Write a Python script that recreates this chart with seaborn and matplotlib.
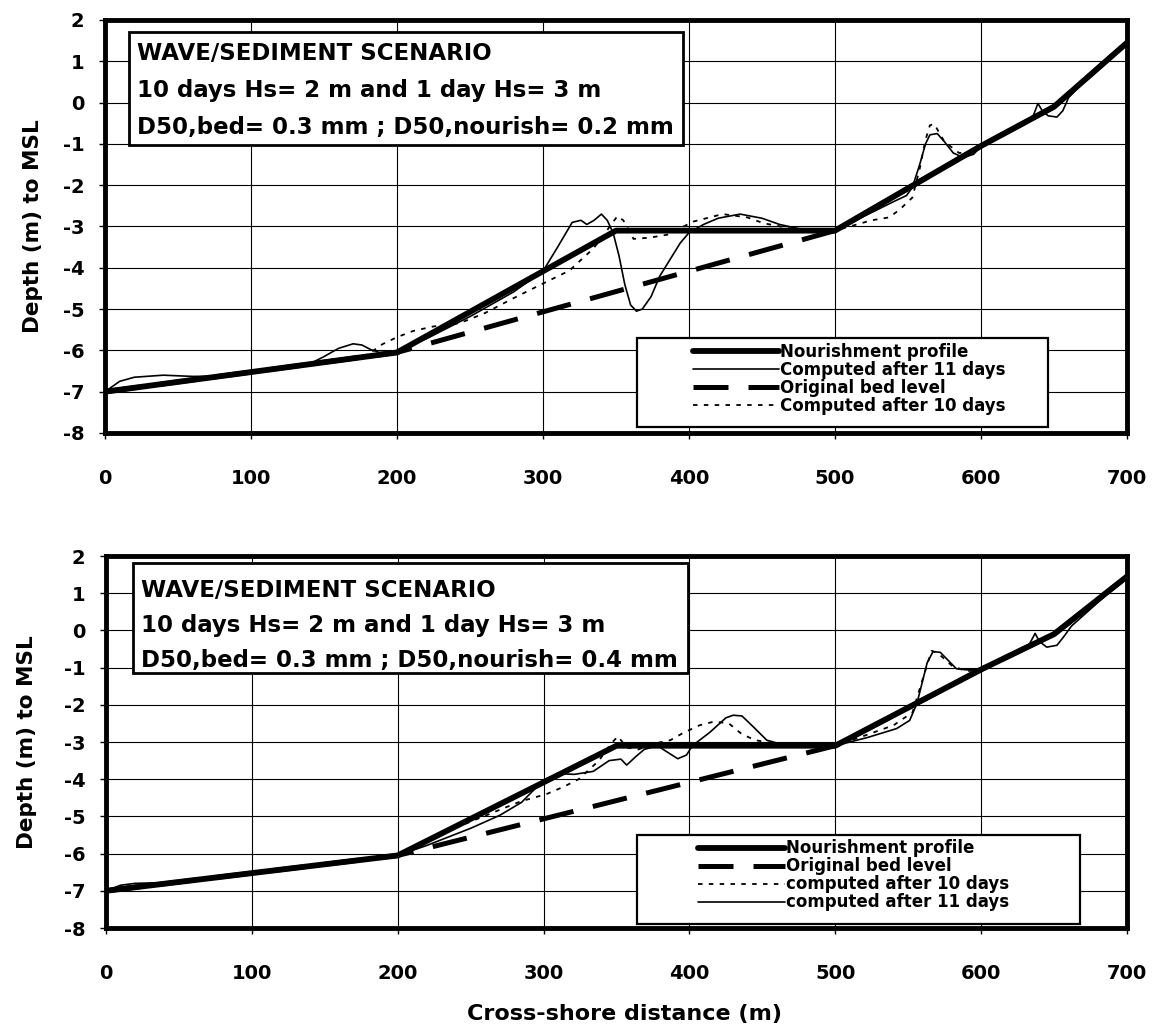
import numpy as np
import pandas as pd
import matplotlib
matplotlib.use("Agg")
import matplotlib.pyplot as plt
from matplotlib.patches import Rectangle
import seaborn as sns

# ---------------- data ----------------
nour_x = [0, 200, 350, 500, 600, 650, 700]
nour_y = [-7.0, -6.05, -3.1, -3.1, -1.05, -0.1, 1.45]

orig_x = [0, 200, 500, 600, 650, 700]
orig_y = [-7.0, -6.05, -3.1, -1.05, -0.1, 1.45]

# top panel (D50 nourish = 0.2 mm)
top_c11_x = [0, 10, 20, 40, 60, 80, 100, 130, 140, 150, 160, 170, 176, 182, 188, 200,
             220, 250, 280, 300, 310, 320, 326, 330, 335, 340, 344, 348, 352, 356, 360,
             364, 368, 374, 380, 387, 394, 400, 410, 420, 435, 450, 462, 475, 490, 500,
             520, 540, 549, 553, 558, 562, 565, 570, 575, 581, 588, 595, 600, 620, 632,
             636, 639, 642, 646, 652, 656, 660, 670, 700]
top_c11_y = [-7.0, -6.75, -6.65, -6.6, -6.63, -6.62, -6.52, -6.38, -6.33, -6.15, -5.95,
             -5.84, -5.87, -5.98, -6.05, -6.02,
             -5.72, -5.18, -4.58, -4.08, -3.5, -2.9, -2.85, -2.95, -2.85, -2.7, -2.85,
             -3.15, -3.7, -4.4, -4.9, -5.05, -5.0, -4.7, -4.2, -3.8, -3.4, -3.15, -2.95,
             -2.8, -2.7, -2.8, -2.95, -3.05, -3.1, -3.1,
             -2.75, -2.4, -2.25, -2.05, -1.5, -1.0, -0.78, -0.75, -0.95, -1.22, -1.33,
             -1.25, -1.05, -0.7, -0.45, -0.3, -0.02, -0.2, -0.32, -0.35, -0.2, 0.12,
             0.5, 1.45]

top_c10_x = [0, 180, 190, 200, 211, 225, 243, 260, 279, 300, 318, 334, 342, 346, 351,
             355, 362, 373, 385, 403, 423, 440, 451, 470, 490, 500, 510, 525, 537, 544,
             553, 558, 562, 565, 568, 575, 585, 595, 600, 650, 700]
top_c10_y = [-7.0, -6.1, -5.85, -5.68, -5.53, -5.42, -5.34, -5.1, -4.75, -4.38, -4.07,
             -3.55, -3.2, -2.98, -2.75, -2.85, -3.3, -3.27, -3.2, -2.88, -2.7, -2.78,
             -2.92, -3.05, -3.1, -3.1, -3.0, -2.85, -2.78, -2.6, -2.3, -1.6, -0.9,
             -0.55, -0.52, -0.95, -1.22, -1.2, -1.05, -0.1, 1.45]

# bottom panel (D50 nourish = 0.4 mm)
bot_c11_x = [0, 10, 20, 40, 200, 220, 250, 270, 285, 300, 310, 321, 334, 345, 353, 357,
             363, 369, 378, 382, 392, 398, 402, 414, 425, 430, 436, 444, 453, 462, 475,
             500, 522, 542, 551, 556, 563, 567, 572, 583, 590, 600, 632, 637, 640, 645,
             652, 657, 662, 700]
bot_c11_y = [-7.0, -6.85, -6.8, -6.78, -6.05, -5.78, -5.32, -4.97, -4.62, -4.02, -3.85,
             -3.87, -3.79, -3.5, -3.46, -3.62, -3.4, -3.2, -3.1, -3.2, -3.45, -3.35,
             -3.1, -2.74, -2.35, -2.28, -2.3, -2.6, -2.95, -3.05, -3.1,
             -3.1, -2.88, -2.64, -2.42, -1.96, -0.87, -0.57, -0.59, -1.03, -1.06, -1.05,
             -0.45, -0.08, -0.3, -0.45, -0.4, -0.15, 0.12, 1.45]

bot_c10_x = [0, 200, 240, 262, 284, 302, 314, 324, 338, 346, 351, 357, 365, 375, 387,
             396, 407, 417, 427, 436, 445, 460, 480, 500, 515, 540, 553, 560, 566, 570,
             580, 590, 600, 650, 700]
bot_c10_y = [-7.0, -6.05, -5.3, -4.95, -4.6, -4.4, -4.2, -4.0, -3.5, -3.05, -2.85, -3.15,
             -3.2, -3.05, -2.95, -2.75, -2.55, -2.45, -2.5, -2.79, -2.95, -3.05, -3.1,
             -3.1, -2.9, -2.55, -2.2, -1.3, -0.55, -0.6, -0.95, -1.1, -1.05, -0.1, 1.45]

x_ticks = [0, 100, 200, 300, 400, 500, 600, 700]
y_ticks = [2, 1, 0, -1, -2, -3, -4, -5, -6, -7, -8]

top_text = ["WAVE/SEDIMENT SCENARIO",
            "10 days Hs= 2 m and 1 day Hs= 3 m",
            "D50,bed= 0.3 mm ; D50,nourish= 0.2 mm"]
bot_text = ["WAVE/SEDIMENT SCENARIO",
            "10 days Hs= 2 m and 1 day Hs= 3 m",
            "D50,bed= 0.3 mm ; D50,nourish= 0.4 mm"]

top_labels = {"nour": "Nourishment profile", "c11": "Computed after 11 days",
              "orig": "Original bed level", "c10": "Computed after 10 days"}
bot_labels = {"nour": "Nourishment profile", "orig": "Original bed level",
              "c10": "computed after 10 days", "c11": "computed after 11 days"}

# ---------------- style ----------------
sns.set_theme(style="white")
plt.rcParams["font.family"] = ["DejaVu Sans"]
plt.rcParams["font.weight"] = "bold"
plt.rcParams["text.color"] = "black"
plt.rcParams["axes.labelcolor"] = "black"
plt.rcParams["xtick.color"] = "black"
plt.rcParams["ytick.color"] = "black"
plt.rcParams["axes.unicode_minus"] = False

W, H = 1155, 1031
fig = plt.figure(figsize=(W / 100, H / 100), dpi=100)
fig.patch.set_facecolor("white")

ax1 = fig.add_axes([105 / W, 1 - 433 / H, 1022 / W, 413 / H])
ax2 = fig.add_axes([106 / W, 1 - 928 / H, 1021 / W, 372 / H])


def draw_panel(ax, c11x, c11y, c10x, c10y, labels, order):
    handles = {}
    sns.lineplot(x=orig_x, y=orig_y, ax=ax, color="black", lw=3.6, sort=False,
                 estimator=None, zorder=3)
    ln = ax.lines[-1]
    ln.set_dashes((7, 4))
    ln.set_dash_capstyle("butt")
    handles["orig"] = ln
    sns.lineplot(x=c10x, y=c10y, ax=ax, color="black", lw=1.3, sort=False,
                 estimator=None, zorder=4)
    ln = ax.lines[-1]
    ln.set_dashes((2.5, 3.5))
    handles["c10"] = ln
    sns.lineplot(x=c11x, y=c11y, ax=ax, color="black", lw=1.2, sort=False,
                 estimator=None, zorder=5)
    handles["c11"] = ax.lines[-1]
    sns.lineplot(x=nour_x, y=nour_y, ax=ax, color="black", lw=4.2, sort=False,
                 estimator=None, zorder=6)
    handles["nour"] = ax.lines[-1]

    ax.set_xlim(0, 700)
    ax.set_ylim(-8, 2)
    ax.set_xticks(x_ticks)
    ax.set_yticks(y_ticks)
    ax.grid(True, color="black", lw=0.8)
    ax.set_axisbelow(True)
    for s in ax.spines.values():
        s.set_linewidth(3.5)
        s.set_color("black")
        s.set_zorder(10)
    ax.tick_params(axis="x", which="both", direction="out", length=4, width=1,
                   color="black", labelcolor="black", pad=22, labelsize=14,
                   bottom=True)
    ax.tick_params(axis="y", which="both", direction="out", length=4, width=1,
                   color="black", labelcolor="black", pad=11, labelsize=14,
                   left=True)
    for t in ax.get_xticklabels() + ax.get_yticklabels():
        t.set_fontweight("bold")
    ax.set_ylabel("Depth (m) to MSL", fontsize=15.5, fontweight="bold",
                  color="black")
    ax.set_xlabel("")
    return [handles[k] for k in order], [labels[k] for k in order]


h1, l1 = draw_panel(ax1, top_c11_x, top_c11_y, top_c10_x, top_c10_y, top_labels,
                    ["nour", "c11", "orig", "c10"])
h2, l2 = draw_panel(ax2, bot_c11_x, bot_c11_y, bot_c10_x, bot_c10_y, bot_labels,
                    ["nour", "orig", "c10", "c11"])

ax1.yaxis.set_label_coords(-0.061, 0.5)
ax2.yaxis.set_label_coords(-0.068, 0.5)
ax2.set_xlabel("Cross-shore distance (m)", fontsize=16, fontweight="bold",
               color="black")
ax2.xaxis.set_label_coords(0.508, -0.205)


def text_box(ax, x0, y0, x1, y1, lines, tx, rows):
    ax.add_patch(Rectangle((x0, y0), x1 - x0, y1 - y0, transform=ax.transAxes,
                           facecolor="white", edgecolor="black", lw=2, zorder=8))
    for s, ty in zip(lines, rows):
        ax.text(tx, ty, s, transform=ax.transAxes, ha="left", va="center",
                fontsize=16.5, fontweight="bold", color="black", zorder=9)


text_box(ax1, 0.0235, 0.697, 0.5656, 0.971, top_text, 0.031, [0.920, 0.8305, 0.7385])
text_box(ax2, 0.0264, 0.6855, 0.570, 0.981, bot_text, 0.034, [0.906, 0.8145, 0.720])


def legend_box(ax, x0, y0, x1, y1, handles, labels, lx, ly):
    ax.add_patch(Rectangle((x0, y0), x1 - x0, y1 - y0, transform=ax.transAxes,
                           facecolor="white", edgecolor="black", lw=1.6, zorder=8))
    leg = ax.legend(handles, labels, loc="upper left", bbox_to_anchor=(lx, ly),
                    bbox_transform=ax.transAxes, frameon=False,
                    handlelength=5.2, handletextpad=0.05, labelspacing=0.0,
                    borderpad=0, borderaxespad=0,
                    prop={"weight": "bold", "size": 12})
    for t in leg.get_texts():
        t.set_color("black")
    leg.set_zorder(9)


legend_box(ax1, 0.5205, 0.0145, 0.9227, 0.230, h1, l1, 0.575, 0.218)
legend_box(ax2, 0.5205, 0.01, 0.954, 0.25, h2, l2, 0.580, 0.238)

fig.savefig("out.png", dpi=100, facecolor="white")
